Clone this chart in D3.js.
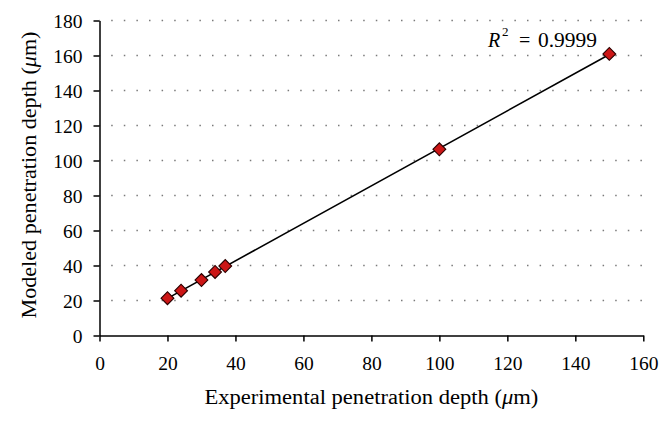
<!DOCTYPE html>
<html>
<head>
<meta charset="utf-8">
<script src="https://cdn.jsdelivr.net/npm/d3@7"></script>
<style>
  html, body { margin: 0; padding: 0; background: #fff; }
  svg, svg text { font-family: "Liberation Serif", "Times New Roman", serif; }
</style>
</head>
<body>
<svg id="chart" width="672" height="422"></svg>
<script>
// Data
const experimental = [20, 24, 30, 34, 37, 100, 150];
const modeled      = [21.3, 25.6, 31.7, 36.3, 39.7, 106.4, 160.9];
const xTicks = [0, 20, 40, 60, 80, 100, 120, 140, 160];
const yTicks = [0, 20, 40, 60, 80, 100, 120, 140, 160, 180];
const r2Label = "0.9999";

const FONT = "Liberation Serif, Times New Roman, serif";
const svg = d3.select("#chart");
const x = d3.scaleLinear().domain([0, 160]).range([99.5, 643.3]);
const y = d3.scaleLinear().domain([0, 180]).range([335.5, 20.5]);

const points = experimental.map((v, i) => ({ x: v, y: modeled[i] }));

// Dotted horizontal gridlines
svg.append("g")
  .selectAll("line")
  .data(yTicks.filter(t => t > 0))
  .join("line")
  .attr("x1", x(0)).attr("x2", x(160))
  .attr("y1", d => y(d)).attr("y2", d => y(d))
  .attr("stroke", "#7a7a7a")
  .attr("stroke-width", 1.5)
  .attr("stroke-dasharray", "1.5 11.1")
  .attr("stroke-dashoffset", 0.9);

// Axes
const xAxis = svg.append("g")
  .attr("transform", `translate(0,${y(0)})`)
  .call(d3.axisBottom(x).tickValues(xTicks).tickSize(6).tickSizeOuter(0).tickFormat(d3.format("d")));
const yAxis = svg.append("g")
  .attr("transform", `translate(${x(0)},0)`)
  .call(d3.axisLeft(y).tickValues(yTicks).tickSize(6).tickSizeOuter(0).tickFormat(d3.format("d")));

[xAxis, yAxis].forEach(g => {
  g.attr("font-family", FONT).attr("font-size", 19.5);
  g.select(".domain").attr("stroke", "#000").attr("stroke-width", 1.5);
  g.selectAll(".tick line").attr("stroke", "#000").attr("stroke-width", 1.5);
  g.selectAll(".tick text")
    .attr("fill", "#000")
    .attr("font-family", FONT)
    .attr("font-size", 19.5);
});
xAxis.selectAll(".tick text").attr("y", 34.5).attr("dy", 0);
yAxis.selectAll(".tick text").attr("x", -17).attr("dy", "0.34em");

// Linear trendline (least squares)
const mx = d3.mean(experimental), my = d3.mean(modeled);
const slope = d3.sum(points, p => (p.x - mx) * (p.y - my)) / d3.sum(points, p => (p.x - mx) ** 2);
const intercept = my - slope * mx;
const xExt = d3.extent(experimental);
svg.append("line")
  .attr("x1", x(xExt[0])).attr("y1", y(slope * xExt[0] + intercept))
  .attr("x2", x(xExt[1])).attr("y2", y(slope * xExt[1] + intercept))
  .attr("stroke", "#000")
  .attr("stroke-width", 1.6);

// Diamond markers
svg.append("g")
  .selectAll("path")
  .data(points)
  .join("path")
  .attr("d", d3.symbol(d3.symbolSquare, 82)())
  .attr("transform", d => `translate(${x(d.x)},${y(d.y)}) rotate(45)`)
  .attr("fill", "#cc1616")
  .attr("stroke", "#2a0000")
  .attr("stroke-width", 1.1);

// R^2 annotation
const r2 = svg.append("g").attr("fill", "#000").attr("font-family", FONT);
r2.append("text").attr("x", 488).attr("y", 47.3).attr("font-size", 20)
  .attr("font-style", "italic").text("R");
r2.append("text").attr("x", 502).attr("y", 36).attr("font-size", 13).text("2");
r2.append("text").attr("x", 519).attr("y", 47.3).attr("font-size", 20).text("=");
r2.append("text").attr("x", 538).attr("y", 47.3).attr("font-size", 20)
  .attr("textLength", 59).attr("lengthAdjust", "spacingAndGlyphs").text(r2Label);

// Axis titles
const xTitle = svg.append("text")
  .attr("x", (x(0) + x(160)) / 2)
  .attr("y", 404.3)
  .attr("text-anchor", "middle")
  .attr("fill", "#000")
  .attr("font-family", FONT)
  .attr("font-size", 20.5);
xTitle.append("tspan").text("Experimental penetration depth (");
xTitle.append("tspan").attr("font-style", "italic").text("μ");
xTitle.append("tspan").text("m)");
xTitle.attr("textLength", 334).attr("lengthAdjust", "spacingAndGlyphs");

const yTitle = svg.append("text")
  .attr("transform", `translate(36,175) rotate(-90)`)
  .attr("text-anchor", "middle")
  .attr("fill", "#000")
  .attr("font-family", FONT)
  .attr("font-size", 20.5);
yTitle.append("tspan").text("Modeled penetration depth (");
yTitle.append("tspan").attr("font-style", "italic").text("μ");
yTitle.append("tspan").text("m)");
yTitle.attr("textLength", 287).attr("lengthAdjust", "spacingAndGlyphs");
</script>
</body>
</html>
